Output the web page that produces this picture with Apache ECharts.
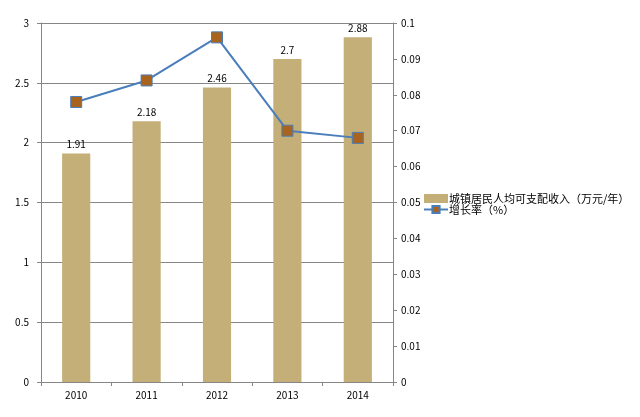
<!DOCTYPE html>
<html>
<head>
<meta charset="utf-8">
<script src="https://cdn.jsdelivr.net/npm/echarts@6/dist/echarts.min.js"></script>
<style>
html,body{margin:0;padding:0;background:#fff;}
#chart{width:640px;height:417px;}
</style>
</head>
<body>
<div id="chart"></div>
<script>
// 年份
var years=['2010','2011','2012','2013','2014'];
// 城镇居民人均可支配收入（万元/年）
var income=[1.91,2.18,2.46,2.7,2.88];
// 增长率
var growth=[0.078,0.084,0.096,0.070,0.068];

var barName='城镇居民人均可支配收入（万元/年）';
var lineName='增长率（%）';
var font='"Noto Sans CJK SC","DejaVu Sans",sans-serif';

var myChart=echarts.init(document.getElementById('chart'));

var option={
    animation:false,
    textStyle:{fontFamily:font},
    grid:{left:41,right:247,top:23,bottom:35,containLabel:false},
    legend:{
        orient:'vertical',
        left:418,
        top:188,
        itemGap:0,
        itemWidth:24,
        itemHeight:9,
        textStyle:{fontSize:11,color:'#000',fontFamily:font,padding:[0,0,0,-4]},
        data:[
            {name:barName,icon:'rect'},
            {name:lineName}
        ]
    },
    xAxis:{
        type:'category',
        data:years,
        axisLine:{lineStyle:{color:'#868686'}},
        axisTick:{show:true,length:4,lineStyle:{color:'#868686'}},
        axisLabel:{color:'#000',fontSize:10,margin:8}
    },
    yAxis:[{
        type:'value',
        min:0,
        max:3,
        interval:0.5,
        axisLine:{show:true,lineStyle:{color:'#868686'}},
        axisTick:{show:true,length:4,lineStyle:{color:'#868686'}},
        axisLabel:{color:'#000',fontSize:10,margin:12},
        splitLine:{lineStyle:{color:'#868686'}}
    },{
        type:'value',
        min:0,
        max:0.1,
        interval:0.01,
        axisLine:{show:true,lineStyle:{color:'#868686'}},
        axisTick:{show:true,length:4,lineStyle:{color:'#868686'}},
        axisLabel:{color:'#000',fontSize:10,margin:8,formatter:function(v){return +v.toFixed(2)+'';}},
        splitLine:{show:false}
    }],
    series:[{
        name:barName,
        type:'bar',
        data:income,
        barWidth:'40%',
        itemStyle:{color:'#C4AF79'},
        label:{show:true,position:'top',color:'#000',fontSize:10,distance:4}
    },{
        name:lineName,
        type:'line',
        yAxisIndex:1,
        data:growth,
        symbol:'rect',
        symbolSize:11,
        lineStyle:{color:'#4A7EBB',width:2},
        itemStyle:{color:'#A8631E',borderColor:'#4A7EBB',borderWidth:1}
    }]
};

myChart.setOption(option);
</script>
</body>
</html>
